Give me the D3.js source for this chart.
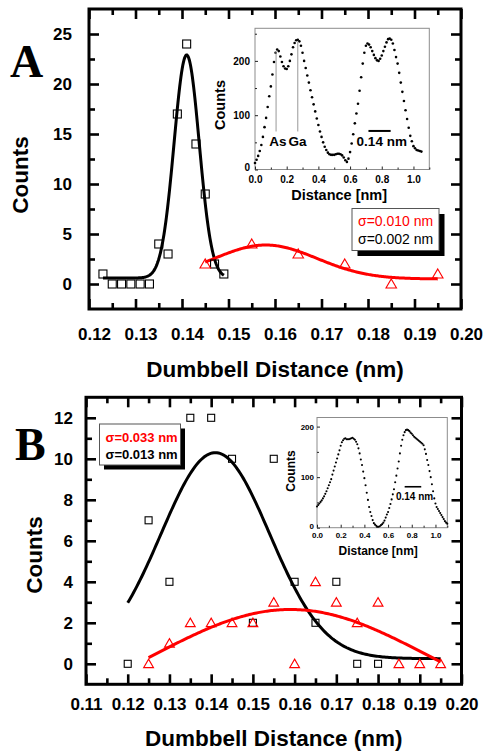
<!DOCTYPE html>
<html>
<head>
<meta charset="utf-8">
<script src="https://cdn.jsdelivr.net/npm/d3@7"></script>
<style>
  html, body { margin: 0; padding: 0; background: #fff; }
  svg { display: block; font-family: "Liberation Sans", Arial, sans-serif; font-weight: bold; }
</style>
</head>
<body>
<svg id="fig" width="483" height="752"></svg>
<script>
// ---------- Panel A: dumbbell distance histograms ----------
const distA_sq  = [0.123, 0.125, 0.127, 0.129, 0.131, 0.133, 0.135, 0.137, 0.139, 0.141, 0.143, 0.145, 0.147, 0.149];
const countA_sq = [1, 0, 0, 0, 0, 0, 4, 3, 17, 24, 14, 9, 2, 1];
const distA_tri  = [0.145, 0.155, 0.165, 0.175, 0.185, 0.195];
const countA_tri = [2, 4, 3, 2, 0, 1];
// Gaussian fits: [y0, amplitude, centre, sigma, xFrom, xTo]
const fitA_black = [0.6, 22.3, 0.141, 0.0027, 0.123, 0.149];
const fitA_red   = [0.5, 3.4, 0.158, 0.011, 0.145, 0.195];
const legendA = ["\u03c3=0.010 nm", "\u03c3=0.002 nm"];
const xTicksA = [0.12, 0.13, 0.14, 0.15, 0.16, 0.17, 0.18, 0.19, 0.20];
const yTicksA = [0, 5, 10, 15, 20, 25];

// ---------- Panel B ----------
const distB_sq  = [0.120, 0.125, 0.130, 0.135, 0.140, 0.145, 0.150, 0.155, 0.160, 0.165, 0.170, 0.175, 0.180];
const countB_sq = [0, 7, 4, 12, 12, 10, 2, 10, 4, 2, 4, 0, 0];
const distB_tri  = [0.125, 0.130, 0.135, 0.140, 0.145, 0.150, 0.155, 0.160, 0.165, 0.170, 0.175, 0.180, 0.185, 0.190, 0.195];
const countB_tri = [0, 1, 2, 2, 2, 2, 3, 0, 4, 3, 2, 3, 0, 0, 0];
const fitB_black = [0.25, 10.05, 0.141, 0.013, 0.120, 0.195];
const fitB_red   = [-3.05, 5.70, 0.159, 0.033, 0.125, 0.195];
const legendB = ["\u03c3=0.033 nm", "\u03c3=0.013 nm"];
const xTicksB = [0.11, 0.12, 0.13, 0.14, 0.15, 0.16, 0.17, 0.18, 0.19, 0.20];
const yTicksB = [0, 2, 4, 6, 8, 10, 12];

// ---------- Inset line profiles (counts every 0.01 nm from 0) ----------
const profileStep = 0.01;
const profileA = [
  12, 18, 25, 34, 45, 60, 78, 95, 115, 135,
  153, 175, 198, 215, 221, 218, 208, 198, 190, 186,
  185, 190, 200, 212, 225, 233, 238, 239, 236, 228,
  215, 200, 187, 173, 160, 146, 133, 120, 107, 94,
  82, 70, 60, 50, 42, 36, 31, 28, 27, 27,
  27, 28, 29, 29, 28, 26, 22, 17, 14, 20,
  32, 48, 65, 85, 103, 121, 145, 170, 195, 215,
  228, 232, 230, 225, 218, 211, 205, 201, 200, 204,
  210, 218, 226, 234, 240, 241, 239, 232, 220, 207,
  195, 178, 160, 143, 126, 109, 93, 77, 62, 52,
  43, 39, 36, 35, 34, 33
];
const profileB = [
  42, 45, 48, 51, 54, 58, 62, 67, 72, 78,
  84, 90, 96, 105, 113, 121, 129, 137, 145, 153,
  162, 169, 173, 176, 177, 175, 175, 175, 176, 177,
  178, 176, 174, 170, 165, 157, 147, 135, 124, 111,
  98, 84, 69, 55, 41, 31, 23, 15, 9, 6,
  4, 2, 2, 3, 5, 7, 10, 14, 20, 26,
  31, 39, 47, 56, 66, 76, 90, 103, 117, 131,
  147, 162, 174, 183, 189, 193, 194, 193, 191, 188,
  186, 183, 180, 178, 176, 174, 172, 170, 168, 166,
  163, 155, 146, 134, 124, 112, 100, 86, 72, 58,
  48, 41, 37, 33, 29, 25, 21, 17, 13, 10, 8
];
const insetXTicks = [0.0, 0.2, 0.4, 0.6, 0.8, 1.0];
const insetYTicks = [0, 100, 200];

const RED = "#ff0000";
const svg = d3.select("#fig");

function gauss(p) {
  const [y0, a, xc, s, x0, x1] = p;
  return d3.range(0, 201).map(i => {
    const x = x0 + (x1 - x0) * i / 200;
    return [x, y0 + a * Math.exp(-((x - xc) ** 2) / (2 * s * s))];
  });
}

function mainPanel(cfg) {
  const g = svg.append("g");
  const x = d3.scaleLinear().domain(cfg.xDomain).range([cfg.left, cfg.right]);
  const y = d3.scaleLinear().domain(cfg.yDomain).range([cfg.bottom, cfg.top]);
  const step = cfg.xTicks[1] - cfg.xTicks[0];
  const xMinor = cfg.xTicks.slice(0, -1).map(v => v + step / 2);
  const ystep = cfg.yTicks[1] - cfg.yTicks[0];
  const yMinor = [cfg.yTicks[0] - ystep / 2].concat(cfg.yTicks.map(v => v + ystep / 2))
    .filter(v => v > cfg.yDomain[0] && v < cfg.yDomain[1]);

  function styleAxis(sel) {
    sel.select(".domain").remove();
    sel.selectAll(".tick line").attr("stroke", "#000").attr("stroke-width", 2.6);
    sel.selectAll("text").attr("fill", "#000").style("font-size", "17px")
      .style("font-family", "Liberation Sans, Arial, sans-serif").style("font-weight", "bold");
  }
  const MAJ = -10, MIN = -6;
  // bottom
  g.append("g").attr("transform", `translate(0,${cfg.bottom})`)
    .call(d3.axisBottom(x).tickValues(cfg.xTicks).tickSize(MAJ).tickPadding(cfg.xPad).tickFormat(d3.format(".2f")))
    .call(styleAxis).selectAll("text").attr("dx", cfg.xLabelShift);
  g.append("g").attr("transform", `translate(0,${cfg.bottom})`)
    .call(d3.axisBottom(x).tickValues(xMinor).tickSize(MIN).tickFormat("")).call(styleAxis);
  // top
  g.append("g").attr("transform", `translate(0,${cfg.top})`)
    .call(d3.axisTop(x).tickValues(cfg.xTicks).tickSize(MAJ).tickFormat("")).call(styleAxis);
  g.append("g").attr("transform", `translate(0,${cfg.top})`)
    .call(d3.axisTop(x).tickValues(xMinor).tickSize(MIN).tickFormat("")).call(styleAxis);
  // left
  g.append("g").attr("transform", `translate(${cfg.left},0)`)
    .call(d3.axisLeft(y).tickValues(cfg.yTicks).tickSize(MAJ).tickPadding(cfg.yPad).tickFormat(d3.format("d")))
    .call(styleAxis);
  g.append("g").attr("transform", `translate(${cfg.left},0)`)
    .call(d3.axisLeft(y).tickValues(yMinor).tickSize(MIN).tickFormat("")).call(styleAxis);
  // right
  g.append("g").attr("transform", `translate(${cfg.right},0)`)
    .call(d3.axisRight(y).tickValues(cfg.yTicks).tickSize(MAJ).tickFormat("")).call(styleAxis);
  g.append("g").attr("transform", `translate(${cfg.right},0)`)
    .call(d3.axisRight(y).tickValues(yMinor).tickSize(MIN).tickFormat("")).call(styleAxis);

  // frame
  g.append("rect").attr("x", cfg.left).attr("y", cfg.top)
    .attr("width", cfg.right - cfg.left).attr("height", cfg.bottom - cfg.top)
    .attr("fill", "none").attr("stroke", "#000").attr("stroke-width", 3);

  // axis titles
  g.append("text").attr("x", (cfg.left + cfg.right) / 2).attr("y", cfg.xTitleY)
    .attr("text-anchor", "middle").style("font-size", "22.5px").text("Dumbbell Distance (nm)");
  g.append("text").attr("transform", `translate(${cfg.yTitleX},${cfg.yTitleMid}) rotate(-90)`)
    .attr("text-anchor", "middle").style("font-size", "22.5px").text("Counts");

  // panel letter
  g.append("text").attr("x", cfg.letterX).attr("y", cfg.letterY)
    .style("font-family", "Liberation Serif, Times New Roman, serif").style("font-size", "46px")
    .text(cfg.letter);

  const line = d3.line().x(d => x(d[0])).y(d => y(d[1]));
  return { g, x, y, line };
}

function markers(P, sqX, sqY, triX, triY, sqSize, triSize) {
  P.g.append("g").selectAll("rect").data(d3.zip(sqX, sqY)).join("rect")
    .attr("x", d => P.x(d[0]) - sqSize / 2).attr("y", d => P.y(d[1]) - sqSize / 2)
    .attr("width", sqSize).attr("height", sqSize)
    .attr("fill", "none").attr("stroke", "#000").attr("stroke-width", 1.1);
  P.g.append("g").selectAll("path").data(d3.zip(triX, triY)).join("path")
    .attr("transform", d => `translate(${P.x(d[0])},${P.y(d[1]) + 1})`)
    .attr("d", d3.symbol(d3.symbolTriangle).size(triSize))
    .attr("fill", "none").attr("stroke", RED).attr("stroke-width", 1.1);
}

function legend(P, texts, box, bold, fs) {
  const [bx, by, bw, bh, off] = box;
  P.g.append("rect").attr("x", bx + off).attr("y", by + off).attr("width", bw).attr("height", bh).attr("fill", "#000");
  P.g.append("rect").attr("x", bx).attr("y", by).attr("width", bw).attr("height", bh)
    .attr("fill", "#fff").attr("stroke", "#555").attr("stroke-width", 1);
  texts.forEach((t, i) => {
    P.g.append("text").attr("x", bx + 6).attr("y", by + 17.5 + i * 17.8)
      .attr("fill", i === 0 ? RED : "#000")
      .style("font-weight", bold ? "bold" : "normal").style("font-size", fs + "px").text(t);
  });
}

function inset(cfg, profile) {
  const g = svg.append("g");
  const x = d3.scaleLinear().domain([0, 1.1]).range([cfg.left, cfg.right]);
  const y = d3.scaleLinear().domain(cfg.yDomain).range([cfg.bottom, cfg.top]);
  g.append("rect").attr("x", cfg.left).attr("y", cfg.top)
    .attr("width", cfg.right - cfg.left).attr("height", cfg.bottom - cfg.top)
    .attr("fill", "#fff").attr("stroke", "#8c8c8c").attr("stroke-width", 1);
  function styleAxis(sel) {
    sel.select(".domain").remove();
    sel.selectAll(".tick line").attr("stroke", "#222").attr("stroke-width", 1);
    sel.selectAll("text").attr("fill", "#000").style("font-size", cfg.tickFs + "px")
      .style("font-family", "Liberation Sans, Arial, sans-serif").style("font-weight", "bold");
  }
  g.append("g").attr("transform", `translate(0,${cfg.bottom})`)
    .call(d3.axisBottom(x).tickValues(insetXTicks).tickSize(-3).tickPadding(cfg.xPad).tickFormat(d3.format(".1f")))
    .call(styleAxis);
  g.append("g").attr("transform", `translate(0,${cfg.bottom})`)
    .call(d3.axisBottom(x).tickValues(insetXTicks.map(v => v + 0.1)).tickSize(-2).tickFormat("")).call(styleAxis);
  g.append("g").attr("transform", `translate(${cfg.left},0)`)
    .call(d3.axisLeft(y).tickValues(insetYTicks).tickSize(-3).tickPadding(cfg.yPad).tickFormat(d3.format("d")))
    .call(styleAxis)
    .selectAll("text").attr("dy", (d, i) => i === 0 ? cfg.zeroDy : "0.32em");
  g.append("g").attr("transform", `translate(${cfg.left},0)`)
    .call(d3.axisLeft(y).tickValues(insetYTicks.map(v => v + 50).filter(v => v < cfg.yDomain[1])).tickSize(-2).tickFormat(""))
    .call(styleAxis);

  g.append("g").selectAll("circle").data(profile).join("circle")
    .attr("cx", (d, i) => x(i * profileStep)).attr("cy", d => y(d))
    .attr("r", cfg.dotR).attr("fill", "#000");

  g.append("text").attr("x", (cfg.left + cfg.right) / 2 + cfg.xTitleDx).attr("y", cfg.xTitleY)
    .attr("text-anchor", "middle").style("font-size", cfg.titleFs + "px").text("Distance [nm]");
  g.append("text").attr("transform", `translate(${cfg.yTitleX},${cfg.yTitleMid}) rotate(-90)`)
    .attr("text-anchor", "middle").style("font-size", cfg.titleFs + "px").text("Counts");
  return { g, x, y };
}

// ================= Panel A =================
const A = mainPanel({
  left: 89, right: 461, top: 9, bottom: 309,
  xDomain: [0.12, 0.20], yDomain: [-2.5, 27.5],
  xTicks: xTicksA, yTicks: yTicksA, xPad: 19, yPad: 17, xLabelShift: 5,
  xTitleY: 377, yTitleX: 28, yTitleMid: 175,
  letter: "A", letterX: 10, letterY: 77
});
A.g.append("path").datum(gauss(fitA_black)).attr("d", A.line)
  .attr("fill", "none").attr("stroke", "#000").attr("stroke-width", 3);
A.g.append("path").datum(gauss(fitA_red)).attr("d", A.line)
  .attr("fill", "none").attr("stroke", RED).attr("stroke-width", 3);
markers(A, distA_sq, countA_sq, distA_tri, countA_tri, 8, 48);
legend(A, legendA, [352, 208.5, 87, 42, 5.5], false, 14);

const IA = inset({
  left: 255, right: 429.3, top: 28.3, bottom: 169.5, yDomain: [0, 260],
  tickFs: 10, xPad: 6, yPad: 5, dotR: 1.3, titleFs: 14.5, zeroDy: "0.1em",
  xTitleY: 200, xTitleDx: -3, yTitleX: 225, yTitleMid: 105
}, profileA);
// atom column markers
[[0.133, 217, "As", 0.145], [0.27, 236, "Ga", 0.268]].forEach(([pos, top, lab, labPos]) => {
  IA.g.append("line").attr("x1", IA.x(pos)).attr("x2", IA.x(pos))
    .attr("y1", IA.y(top)).attr("y2", IA.y(70)).attr("stroke", "#999").attr("stroke-width", 1);
  IA.g.append("text").attr("x", IA.x(labPos)).attr("y", 146).attr("text-anchor", "middle")
    .style("font-size", "13.5px").text(lab);
});
// scale bar
IA.g.append("line").attr("x1", IA.x(0.716)).attr("x2", IA.x(0.856))
  .attr("y1", IA.y(71)).attr("y2", IA.y(71)).attr("stroke", "#000").attr("stroke-width", 2);
IA.g.append("text").attr("x", IA.x(0.80)).attr("y", 146).attr("text-anchor", "middle")
  .style("font-size", "13.5px").text("0.14 nm");

// ================= Panel B =================
const B = mainPanel({
  left: 86, right: 461.5, top: 397.3, bottom: 684.3,
  xDomain: [0.11, 0.20], yDomain: [-1, 13],
  xTicks: xTicksB, yTicks: yTicksB, xPad: 14, yPad: 13, xLabelShift: 0,
  xTitleY: 746, yTitleX: 41.5, yTitleMid: 555,
  letter: "B", letterX: 15, letterY: 460
});
B.g.append("path").datum(gauss(fitB_black)).attr("d", B.line)
  .attr("fill", "none").attr("stroke", "#000").attr("stroke-width", 3);
B.g.append("path").datum(gauss(fitB_red)).attr("d", B.line)
  .attr("fill", "none").attr("stroke", RED).attr("stroke-width", 3);
markers(B, distB_sq, countB_sq, distB_tri, countB_tri, 7, 42);
legend(B, legendB, [99.5, 424, 81, 41, 4.5], true, 13);

const IB = inset({
  left: 317, right: 447.3, top: 417.5, bottom: 527.7, yDomain: [0, 218],
  tickFs: 8, xPad: 5, yPad: 3, dotR: 1.05, titleFs: 12, zeroDy: "0.05em",
  xTitleY: 555, xTitleDx: -4, yTitleX: 295, yTitleMid: 471
}, profileB);
IB.g.append("line").attr("x1", IB.x(0.74)).attr("x2", IB.x(0.88))
  .attr("y1", IB.y(81)).attr("y2", IB.y(81)).attr("stroke", "#000").attr("stroke-width", 1.6);
IB.g.append("text").attr("x", IB.x(0.824)).attr("y", 500).attr("text-anchor", "middle")
  .style("font-size", "10px").text("0.14 nm");
</script>
</body>
</html>
